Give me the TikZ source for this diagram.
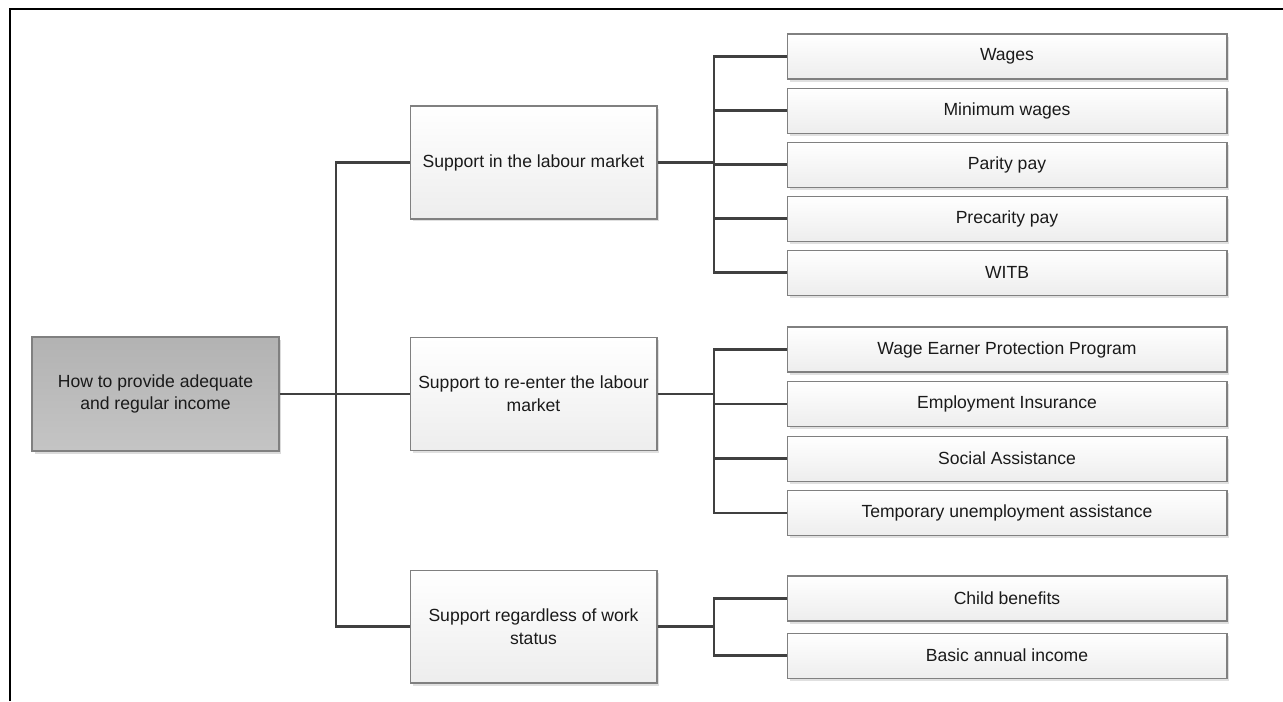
\documentclass[tikz,border=0pt]{standalone}
\usepackage{fontspec}
\setmainfont{Liberation Sans}
\usetikzlibrary{positioning, shadows}
\definecolor{linegray}{HTML}{404040}
\definecolor{boxline}{HTML}{808080}
\definecolor{txt}{HTML}{1A1A1A}
\tikzstyle{goal} = [rectangle, 
minimum width=4.94cm, 
minimum height=2.28cm, 
align=center, 
draw=boxline, 
line width=0.6pt,
top color=black!30, 
bottom color=black!23,
text=txt,
drop shadow={shadow xshift=0.05cm, shadow yshift=-0.05cm, fill=black!14, opacity=1}]
\tikzstyle{support} = [rectangle, 
minimum width=4.94cm, 
minimum height=2.26cm, 
align=center, 
draw=boxline, 
line width=0.6pt,
top color=white, 
bottom color=black!7,
text=txt,
drop shadow={shadow xshift=0.05cm, shadow yshift=-0.05cm, fill=black!12, opacity=1}]
\tikzstyle{measure} = [rectangle, 
minimum width=8.8cm, 
minimum height=0.9cm, 
align=center, 
draw=boxline, 
line width=0.6pt,
top color=white, 
bottom color=black!7,
text=txt,
drop shadow={shadow xshift=0.05cm, shadow yshift=-0.05cm, fill=black!12, opacity=1}]
\tikzstyle{coord} = [coordinate]
\tikzstyle{link} = [line width=1.4pt, draw=linegray]

\begin{document}
\begin{tikzpicture}[x=0.02cm, y=-0.02cm, font=\fontsize{10}{13}\selectfont]
		\useasboundingbox (0,0) rectangle (1283,701);
		\draw [line width=1.6pt] (10,701) -- (10,9) -- (1283,9);
	
		% main boxes
		\node (goal) [goal] at (155.5,394) {How to provide adequate\\and regular income};
		\node (market) [support] at (533.5,162.5) {Support in the labour market};
		\node (reenter) [support] at (533.5,394) {Support to re-enter the labour\\market};
		\node (status) [support] at (533.5,626.5) {Support regardless of work\\status};
	
		% measures
		\node (wages) [measure] at (1007,56.5) {Wages};
		\node (minwages) [measure, below=0.16cm of wages] {Minimum wages};
		\node (parity) [measure, below=0.16cm of minwages] {Parity pay};
		\node (precarity) [measure, below=0.16cm of parity] {Precarity pay};
		\node (witb) [measure, below=0.16cm of precarity] {WITB};
	
		\node (wepp) [measure] at (1007,349.5) {Wage Earner Protection Program};
		\node (ei) [measure, below=0.17cm of wepp] {Employment Insurance};
		\node (social) [measure, below=0.17cm of ei] {Social Assistance};
		\node (temp) [measure, below=0.17cm of social] {Temporary unemployment assistance};
	
		\node (child) [measure] at (1007,598.5) {Child benefits};
		\node (basic) [measure, below=0.22cm of child] {Basic annual income};
	
		% connectors
		\node (c1) [coord] at (336,394) {};
		\node (j1) [coord] at (714,162.5) {};
		\node (j2) [coord] at (714,394) {};
		\node (j3) [coord] at (714,626.5) {};
	
		\draw [link] (goal) -- (reenter);
		\draw [link] (c1) |- (market);
		\draw [link] (c1) |- (status);
	
		\draw [link] (market) -- (j1);
		\foreach \m in {wages, minwages, parity, precarity, witb}
			\draw [link] (j1) |- (\m);
		\draw [link] (reenter) -- (j2);
		\foreach \m in {wepp, ei, social, temp}
			\draw [link] (j2) |- (\m);
		\draw [link] (status) -- (j3);
		\foreach \m in {child, basic}
			\draw [link] (j3) |- (\m);
	\end{tikzpicture}
\end{document}
